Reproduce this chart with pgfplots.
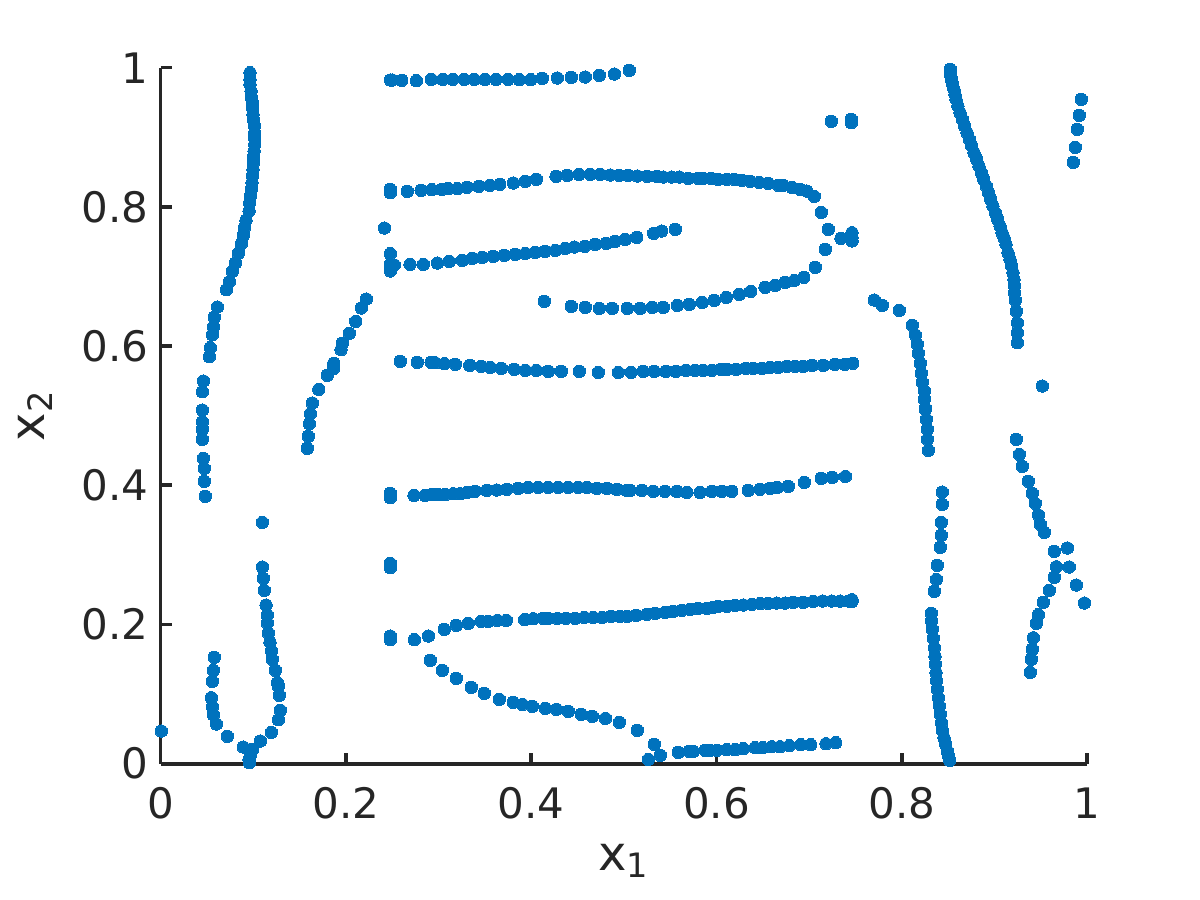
\documentclass[border=0pt]{standalone}
\usepackage{fontspec}
\setmainfont{DejaVu Sans}
\usepackage{pgfplots}
\pgfplotsset{compat=1.18}
\definecolor{matblue}{HTML}{0072BD}
\definecolor{matgray}{HTML}{262626}
\begin{document}
\begin{tikzpicture}[x=1pt,y=1pt]
\useasboundingbox (0,0) rectangle (600,450);
\begin{axis}[
    at={(80.35pt,68.15pt)}, anchor=south west,
    scale only axis,
    width=463.15pt, height=348pt,
    xmin=0, xmax=1, ymin=0, ymax=1,
    axis x line=bottom, axis y line=left,
    axis line style={-, line width=1.8pt, color=matgray},
    xtick={0,0.2,...,1}, ytick={0,0.2,...,1},
    xticklabels={0,0.2,0.4,0.6,0.8,1},
    yticklabels={0,0.2,0.4,0.6,0.8,1},
    tick align=inside, tick pos=lower,
    major tick length=5.5pt,
    tick style={line width=1.8pt, color=matgray},
    tick label style={font=\fontsize{21}{24}\selectfont, text=matgray},
    xticklabel style={yshift=-8.5pt},
    yticklabel style={xshift=-2.5pt},
    xlabel={x\textsubscript{1}},
    ylabel={x\textsubscript{2}},
    label style={font=\fontsize{24}{27}\selectfont, text=matgray},
    xlabel shift=5.5pt,
    ylabel shift=8pt,
    clip=false,
]
\addplot[only marks, mark=*, mark size=3.1pt, color=matblue, mark options={fill=matblue, draw=matblue, line width=0pt}] table {
x y
0.0964 0.9928
0.0964 0.9832
0.0964 0.9761
0.0975 0.9665
0.0982 0.9569
0.0990 0.9497
0.0993 0.9416
0.0997 0.9330
0.1004 0.9243
0.1011 0.9162
0.1015 0.9066
0.1015 0.8985
0.1015 0.8898
0.1008 0.8803
0.1004 0.8716
0.1000 0.8635
0.0997 0.8539
0.0990 0.8443
0.0986 0.8348
0.0979 0.8252
0.0968 0.8156
0.0961 0.8060
0.0954 0.7941
0.0921 0.7807
0.0903 0.7701
0.0892 0.7591
0.0871 0.7471
0.0838 0.7332
0.0806 0.7193
0.0774 0.7074
0.0741 0.6925
0.0709 0.6810
0.0612 0.6561
0.0579 0.6413
0.0569 0.6274
0.0558 0.6164
0.0536 0.5977
0.0525 0.5848
0.0461 0.5498
0.0450 0.5345
0.0450 0.5081
0.0450 0.4914
0.0450 0.4804
0.0450 0.4660
0.0461 0.4387
0.0471 0.4243
0.0471 0.4057
0.0482 0.3841
0.2220 0.6676
0.2166 0.6547
0.2105 0.6355
0.2037 0.6183
0.1961 0.6039
0.1947 0.5948
0.1868 0.5752
0.1864 0.5675
0.1799 0.5580
0.1706 0.5378
0.1637 0.5182
0.1616 0.5029
0.1605 0.4885
0.1594 0.4703
0.1583 0.4531
0.1098 0.3467
0.1098 0.2826
0.1108 0.2663
0.1119 0.2490
0.1137 0.2280
0.1151 0.2136
0.1151 0.2021
0.1162 0.1877
0.1180 0.1748
0.1195 0.1619
0.1205 0.1499
0.1238 0.1341
0.1259 0.1164
0.1270 0.1111
0.1281 0.0982
0.1292 0.0766
0.1270 0.0632
0.1195 0.0450
0.1076 0.0326
0.0990 0.0201
0.0975 0.0158
0.0964 0.0096
0.0957 0.0014
0.0954 0.0062
0.0892 0.0239
0.0720 0.0393
0.0601 0.0570
0.0569 0.0704
0.0558 0.0819
0.0547 0.0948
0.0558 0.1183
0.0569 0.1341
0.0579 0.1528
0.0007 0.0469
0.2479 0.9823
0.2500 0.9823
0.2602 0.9818
0.2760 0.9813
0.2922 0.9832
0.3044 0.9832
0.3152 0.9832
0.3275 0.9832
0.3386 0.9832
0.3501 0.9832
0.3620 0.9832
0.3750 0.9832
0.3872 0.9828
0.3994 0.9828
0.4120 0.9847
0.4282 0.9852
0.4433 0.9861
0.4584 0.9866
0.4736 0.9890
0.4898 0.9909
0.5059 0.9962
0.2479 0.8252
0.2479 0.8204
0.2663 0.8223
0.2811 0.8238
0.2926 0.8247
0.3033 0.8252
0.3105 0.8262
0.3203 0.8262
0.3303 0.8281
0.3433 0.8295
0.3552 0.8309
0.3660 0.8324
0.3807 0.8343
0.3937 0.8367
0.4056 0.8396
0.4268 0.8439
0.4390 0.8453
0.4516 0.8467
0.4638 0.8467
0.4746 0.8467
0.4854 0.8458
0.4951 0.8453
0.5049 0.8453
0.5146 0.8444
0.5254 0.8439
0.5354 0.8439
0.5426 0.8429
0.5516 0.8429
0.5599 0.8429
0.5696 0.8410
0.5804 0.8410
0.5858 0.8410
0.5945 0.8410
0.6020 0.8396
0.6110 0.8396
0.6193 0.8396
0.6272 0.8381
0.6366 0.8367
0.6463 0.8352
0.6560 0.8338
0.6668 0.8310
0.6722 0.8310
0.6819 0.8276
0.6902 0.8252
0.6974 0.8228
0.7056 0.8151
0.7132 0.7921
0.7208 0.7677
0.7175 0.7390
0.7067 0.7131
0.6942 0.6988
0.6841 0.6944
0.6743 0.6916
0.6636 0.6873
0.6524 0.6844
0.6369 0.6786
0.6247 0.6743
0.6107 0.6700
0.5977 0.6657
0.5847 0.6628
0.5707 0.6600
0.5578 0.6585
0.5426 0.6557
0.5308 0.6557
0.5178 0.6542
0.5038 0.6542
0.4876 0.6542
0.4736 0.6542
0.4584 0.6557
0.4433 0.6571
0.4142 0.6643
0.7344 0.7548
0.7463 0.7629
0.7463 0.7567
0.7463 0.7510
0.2415 0.7696
0.2479 0.7328
0.2479 0.7174
0.2522 0.7165
0.2479 0.7079
0.2692 0.7174
0.2836 0.7174
0.2987 0.7193
0.3116 0.7217
0.3257 0.7232
0.3365 0.7261
0.3473 0.7275
0.3591 0.7289
0.3710 0.7304
0.3829 0.7318
0.3937 0.7332
0.4045 0.7347
0.4149 0.7361
0.4261 0.7375
0.4369 0.7404
0.4466 0.7423
0.4577 0.7433
0.4692 0.7462
0.4811 0.7476
0.4905 0.7505
0.5016 0.7533
0.5138 0.7562
0.5322 0.7620
0.5408 0.7653
0.5556 0.7677
0.2587 0.5781
0.2771 0.5766
0.2919 0.5766
0.2962 0.5761
0.3063 0.5747
0.3181 0.5738
0.3336 0.5723
0.3462 0.5709
0.3559 0.5694
0.3678 0.5680
0.3818 0.5666
0.3937 0.5651
0.4056 0.5651
0.4185 0.5637
0.4325 0.5637
0.4520 0.5637
0.4725 0.5622
0.4941 0.5622
0.5078 0.5622
0.5210 0.5637
0.5329 0.5637
0.5452 0.5637
0.5559 0.5637
0.5667 0.5651
0.5765 0.5651
0.5858 0.5651
0.5948 0.5651
0.6045 0.5666
0.6117 0.5666
0.6215 0.5666
0.6315 0.5680
0.6398 0.5680
0.6495 0.5680
0.6582 0.5695
0.6668 0.5695
0.6758 0.5709
0.6852 0.5709
0.6938 0.5709
0.7035 0.5723
0.7154 0.5723
0.7276 0.5738
0.7384 0.5738
0.7470 0.5752
0.2479 0.3884
0.2479 0.3822
0.2735 0.3855
0.2853 0.3855
0.2926 0.3865
0.2998 0.3865
0.3070 0.3865
0.3159 0.3879
0.3231 0.3879
0.3303 0.3894
0.3393 0.3913
0.3519 0.3927
0.3627 0.3932
0.3735 0.3942
0.3861 0.3956
0.3969 0.3970
0.4077 0.3970
0.4185 0.3970
0.4293 0.3970
0.4401 0.3970
0.4509 0.3970
0.4599 0.3970
0.4707 0.3956
0.4815 0.3956
0.4922 0.3942
0.5030 0.3927
0.5067 0.3927
0.5193 0.3927
0.5319 0.3913
0.5444 0.3913
0.5570 0.3913
0.5678 0.3898
0.5822 0.3898
0.5948 0.3913
0.6056 0.3913
0.6164 0.3913
0.6344 0.3927
0.6470 0.3942
0.6578 0.3956
0.6657 0.3970
0.6776 0.3985
0.6949 0.4042
0.7132 0.4100
0.7251 0.4114
0.7392 0.4128
0.2479 0.2878
0.2479 0.2816
0.2479 0.1834
0.2479 0.1782
0.2738 0.1782
0.2890 0.1834
0.3062 0.1930
0.3192 0.1988
0.3321 0.2016
0.3462 0.2045
0.3537 0.2045
0.3635 0.2059
0.3732 0.2059
0.3929 0.2069
0.4023 0.2083
0.4131 0.2088
0.4185 0.2088
0.4283 0.2088
0.4372 0.2088
0.4473 0.2088
0.4574 0.2102
0.4671 0.2102
0.4768 0.2102
0.4865 0.2117
0.4958 0.2117
0.5038 0.2117
0.5135 0.2131
0.5247 0.2146
0.5340 0.2160
0.5448 0.2174
0.5534 0.2189
0.5624 0.2203
0.5714 0.2217
0.5804 0.2232
0.5894 0.2232
0.5966 0.2246
0.6020 0.2261
0.6110 0.2261
0.6200 0.2275
0.6290 0.2280
0.6380 0.2289
0.6470 0.2299
0.6560 0.2304
0.6650 0.2308
0.6740 0.2308
0.6830 0.2318
0.6938 0.2318
0.7046 0.2332
0.7146 0.2337
0.7244 0.2337
0.7334 0.2337
0.7424 0.2337
0.7463 0.2332
0.7463 0.2356
0.2911 0.1485
0.3041 0.1341
0.3192 0.1226
0.3354 0.1097
0.3494 0.1011
0.3656 0.0924
0.3807 0.0881
0.3905 0.0852
0.4012 0.0824
0.4153 0.0795
0.4272 0.0781
0.4401 0.0752
0.4541 0.0709
0.4660 0.0680
0.4801 0.0651
0.4952 0.0594
0.5146 0.0479
0.5329 0.0278
0.5394 0.0120
0.5265 0.0062
0.5588 0.0163
0.5707 0.0177
0.5750 0.0177
0.5876 0.0192
0.5930 0.0192
0.6002 0.0192
0.6110 0.0201
0.6200 0.0201
0.6290 0.0216
0.6416 0.0230
0.6499 0.0230
0.6596 0.0244
0.6686 0.0244
0.6787 0.0259
0.6909 0.0273
0.7017 0.0273
0.7182 0.0287
0.7287 0.0302
0.7240 0.9229
0.7456 0.9258
0.7456 0.9210
0.8525 0.9976
0.8525 0.9904
0.8535 0.9832
0.8550 0.9761
0.8564 0.9689
0.8575 0.9617
0.8586 0.9545
0.8607 0.9449
0.8629 0.9353
0.8654 0.9258
0.8679 0.9162
0.8705 0.9066
0.8730 0.8970
0.8755 0.8875
0.8780 0.8779
0.8809 0.8683
0.8834 0.8587
0.8859 0.8491
0.8884 0.8396
0.8913 0.8300
0.8939 0.8204
0.8960 0.8108
0.8985 0.8012
0.9011 0.7917
0.9036 0.7821
0.9061 0.7725
0.9083 0.7629
0.9104 0.7557
0.9126 0.7462
0.9147 0.7342
0.9169 0.7246
0.9187 0.7150
0.9201 0.7055
0.9212 0.6959
0.9216 0.6863
0.9219 0.6767
0.9226 0.6657
0.9237 0.6499
0.9248 0.6332
0.9248 0.6193
0.9248 0.6049
0.9939 0.9545
0.9917 0.9315
0.9896 0.9114
0.9874 0.8855
0.9852 0.8640
0.9518 0.5426
0.7704 0.6662
0.7791 0.6585
0.7974 0.6513
0.8115 0.6298
0.8147 0.6159
0.8169 0.6025
0.8180 0.5896
0.8201 0.5752
0.8212 0.5608
0.8223 0.5479
0.8245 0.5354
0.8245 0.5235
0.8255 0.5105
0.8255 0.5091
0.8266 0.4947
0.8277 0.4804
0.8277 0.4660
0.8288 0.4502
0.8438 0.3903
0.8438 0.3726
0.8427 0.3467
0.8427 0.3281
0.8417 0.3108
0.8384 0.2850
0.8374 0.2648
0.8352 0.2476
0.8320 0.2160
0.8320 0.2050
0.8331 0.1930
0.8341 0.1801
0.8352 0.1667
0.8359 0.1547
0.8363 0.1427
0.8370 0.1307
0.8377 0.1188
0.8384 0.1068
0.8395 0.0948
0.8406 0.0829
0.8417 0.0709
0.8427 0.0589
0.8442 0.0469
0.8456 0.0374
0.8474 0.0278
0.8492 0.0182
0.8506 0.0110
0.8517 0.0048
0.9237 0.4660
0.9270 0.4444
0.9302 0.4272
0.9367 0.4057
0.9410 0.3884
0.9442 0.3740
0.9475 0.3573
0.9496 0.3439
0.9539 0.3324
0.9647 0.3051
0.9788 0.3099
0.9669 0.2830
0.9809 0.2826
0.9647 0.2677
0.9885 0.2567
0.9593 0.2490
0.9528 0.2318
0.9972 0.2308
0.9475 0.2141
0.9453 0.2016
0.9421 0.1810
0.9410 0.1643
0.9399 0.1499
0.9388 0.1312
};
\end{axis}
\end{tikzpicture}
\end{document}
